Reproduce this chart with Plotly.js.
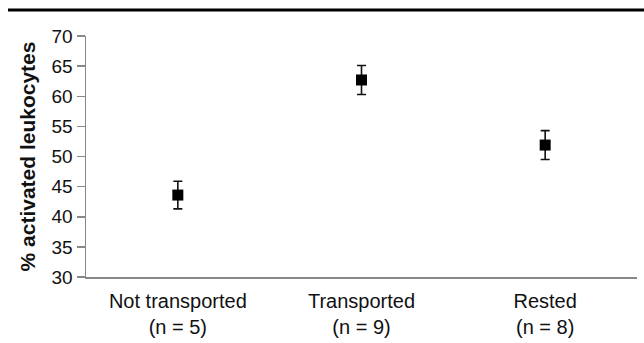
<!DOCTYPE html>
<html>
<head>
<meta charset="utf-8">
<script src="https://cdn.plot.ly/plotly-3.0.1.min.js"></script>
<style>html,body{margin:0;padding:0;background:#fff;}#chart{width:644px;height:343px;}</style>
</head>
<body>
<div id="chart"></div>
<script>
var categories = ["Not transported", "Transported", "Rested"];
var groupSizes = ["(n = 5)", "(n = 9)", "(n = 8)"];
var means = [43.6, 62.7, 51.9];
var errors = [2.3, 2.4, 2.4];
var yTicks = [30, 35, 40, 45, 50, 55, 60, 65, 70];

var font = "Liberation Sans, Arial, sans-serif";
var tickText = categories.map(function(c, i) { return c + "<br>" + groupSizes[i]; });

var trace = {
  type: "scatter",
  mode: "markers",
  x: categories,
  y: means,
  marker: {symbol: "square", size: 11, color: "#000"},
  error_y: {type: "data", array: errors, visible: true, color: "#111", thickness: 1.6, width: 4.5},
  hoverinfo: "skip",
  cliponaxis: false
};

var layout = {
  width: 644, height: 343,
  margin: {l: 86, r: 7, t: 36, b: 66},
  paper_bgcolor: "#fff", plot_bgcolor: "#fff",
  showlegend: false,
  font: {family: font, color: "#111"},
  xaxis: {
    type: "category", range: [-0.5, 2.5],
    tickvals: categories, ticktext: tickText,
    showline: true, linecolor: "#888", linewidth: 1.5,
    showgrid: false, zeroline: false, ticks: "",
    tickfont: {family: font, size: 20, color: "#111"},
    ticklabelstandoff: 5
  },
  yaxis: {
    range: [30, 70], tickvals: yTicks,
    showline: true, linecolor: "#888", linewidth: 1.5,
    ticks: "outside", ticklen: 8, tickcolor: "#888", tickwidth: 1.5,
    showgrid: false, zeroline: false,
    tickfont: {family: font, size: 19, color: "#111"},
    title: {text: "<b>% activated leukocytes</b>", font: {family: font, size: 21, color: "#111"}, standoff: 10}
  },
  shapes: [{
    type: "line", xref: "paper", yref: "paper",
    x0: -0.1416, x1: 1.02, y0: 1.108, y1: 1.108,
    line: {color: "#000", width: 3}
  }]
};

Plotly.newPlot("chart", [trace], layout, {displayModeBar: false, staticPlot: true});
</script>
</body>
</html>
